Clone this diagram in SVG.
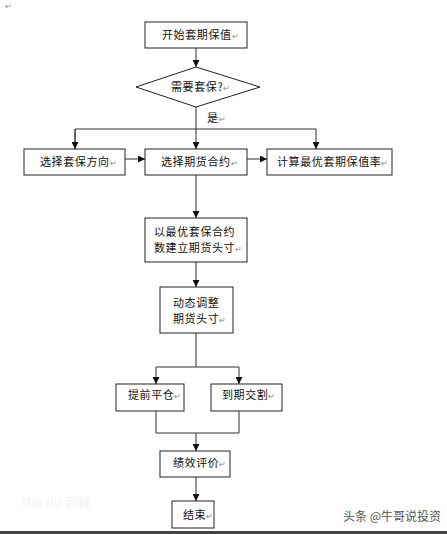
<svg xmlns="http://www.w3.org/2000/svg" width="447" height="534" viewBox="0 0 447 534">
<style>
.box{fill:#fff;stroke:#222;stroke-width:1}
.ln{fill:none;stroke:#333;stroke-width:1}
.t{font-family:"Noto Sans CJK SC","Noto Sans",sans-serif;font-size:11px;fill:#111;letter-spacing:0.6px}
.r{font-size:8px;fill:#888;letter-spacing:0}
.wm{font-family:"Noto Sans CJK SC",sans-serif;font-size:12px;fill:#555}
</style>
<defs>
<marker id="ah" markerWidth="7" markerHeight="7" refX="7" refY="3.5" orient="auto" markerUnits="userSpaceOnUse">
<path d="M0,0 L7,3.5 L0,7 Z" fill="#111"/>
</marker>
</defs>
<rect width="447" height="534" fill="#fff"/>
<text x="5" y="9" class="t r">↵</text>
<g id="connectors">
<line class="ln" x1="196" y1="48" x2="196" y2="67" marker-end="url(#ah)"/>
<line class="ln" x1="196" y1="107" x2="196" y2="149" marker-end="url(#ah)"/>
<polyline class="ln" points="75,149 75,129 316,129 316,149" marker-end="url(#ah)"/>
<line class="ln" x1="75" y1="129" x2="75" y2="149" marker-end="url(#ah)"/>
<line class="ln" x1="125" y1="159" x2="145" y2="159" marker-end="url(#ah)"/>
<line class="ln" x1="247" y1="159" x2="267" y2="159" marker-end="url(#ah)"/>
<line class="ln" x1="196" y1="175" x2="196" y2="218" marker-end="url(#ah)"/>
<line class="ln" x1="196" y1="262" x2="196" y2="287" marker-end="url(#ah)"/>
<polyline class="ln" points="196,333 196,367 156,367 156,384" marker-end="url(#ah)"/>
<polyline class="ln" points="196,367 239,367 239,384" marker-end="url(#ah)"/>
<polyline class="ln" points="156,411 156,433 239,433 239,411"/>
<line class="ln" x1="196" y1="433" x2="196" y2="451" marker-end="url(#ah)"/>
<line class="ln" x1="196" y1="477" x2="196" y2="501" marker-end="url(#ah)"/>
</g>
<g id="start"><rect class="box" x="145" y="22" width="102" height="26"/><text class="t" x="162" y="39">开始套期保值<tspan class="r">↵</tspan></text></g>
<g id="decision"><polygon class="box" points="196,67 260,87 196,107 136,87"/><text class="t" x="171" y="91">需要套保?<tspan class="r">↵</tspan></text></g>
<g id="yes-label"><text class="t" x="207" y="122">是<tspan class="r">↵</tspan></text></g>
<g id="direction"><rect class="box" x="24" y="149" width="101" height="26"/><text class="t" x="40" y="166">选择套保方向<tspan class="r">↵</tspan></text></g>
<g id="contract"><rect class="box" x="145" y="149" width="102" height="26"/><text class="t" x="161" y="166">选择期货合约<tspan class="r">↵</tspan></text></g>
<g id="ratio"><rect class="box" x="267" y="149" width="125" height="26"/><text class="t" x="277" y="166">计算最优套期保值率<tspan class="r">↵</tspan></text></g>
<g id="build"><rect class="box" x="145" y="218" width="102" height="44"/><text class="t" x="154" y="236">以最优套保合约</text><text class="t" x="154" y="252">数建立期货头寸<tspan class="r">↵</tspan></text></g>
<g id="adjust"><rect class="box" x="160" y="287" width="73" height="46"/><text class="t" x="173" y="307">动态调整</text><text class="t" x="173" y="323">期货头寸<tspan class="r">↵</tspan></text></g>
<g id="close"><rect class="box" x="116" y="384" width="68" height="27"/><text class="t" x="128" y="399">提前平仓<tspan class="r">↵</tspan></text></g>
<g id="delivery"><rect class="box" x="211" y="384" width="71" height="27"/><text class="t" x="222" y="399">到期交割<tspan class="r">↵</tspan></text></g>
<g id="evaluate"><rect class="box" x="160" y="451" width="70" height="26"/><text class="t" x="173" y="467">绩效评价<tspan class="r">↵</tspan></text></g>
<g id="end"><rect class="box" x="172" y="501" width="42" height="27"/><text class="t" x="183" y="519">结束<tspan class="r">↵</tspan></text></g>
<text x="22" y="507" font-family="Liberation Sans,sans-serif" font-size="13" font-weight="bold" fill="#f5f5f5">Bai du 百科</text>
<text class="wm" x="343" y="521">头条 @牛哥说投资</text>
<rect x="0" y="531" width="447" height="3" fill="#444"/>
</svg>
